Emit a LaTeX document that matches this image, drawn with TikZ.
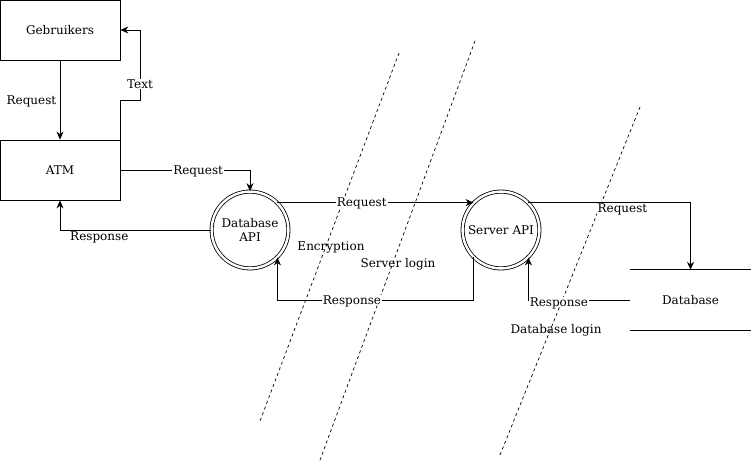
\documentclass[tikz,border=0pt]{standalone}
\usepackage{fontspec}
\setmainfont{DejaVu Serif}
\usetikzlibrary{arrows.meta}

\tikzset{
    entity/.style={draw, line width=0.8pt, minimum width=120pt, minimum height=60pt, inner sep=0pt},
    process/.style={circle, draw, double, line width=0.8pt, double distance=2.4pt, minimum size=76.8pt, inner sep=0pt, align=center},
    store/.style={minimum width=121pt, minimum height=60pt, inner sep=0pt},
    flow/.style={line width=0.8pt, -{Stealth[length=8pt, width=7pt]}},
    lbl/.style={fill=white, inner sep=1pt},
    boundary/.style={line width=0.7pt, dash pattern=on 3pt off 3pt}
}

\begin{document}
\begin{tikzpicture}[x=1pt, y=-1pt, font=\fontsize{12pt}{14pt}\selectfont, every node/.append style={text depth=0pt}]
    \useasboundingbox (0,0) rectangle (751,462);

    % Grenzen
    \draw[boundary] (399,53) -- (260,421);
    \draw[boundary] (475,41) -- (320,460);
    \draw[boundary] (640,107) -- (500,455);

    % Entiteiten
    \node[entity] (gebruikers) at (60,30) {Gebruikers};
    \node[entity] (atm) at (60,170) {ATM};

    % Processen
    \node[process] (dbapi) at (250,230) {Database\\API};
    \node[process] (srvapi) at (501,230) {Server API};

    % Database
    \node[store] (db) at (690.5,300) {Database};
    \draw[line width=0.8pt] (db.north west) -- (db.north east);
    \draw[line width=0.8pt] (db.south west) -- (db.south east);

    % Pijlen
    \draw[flow] (gebruikers) -- (atm) node[midway, left]{Request};
    \coordinate (tbend) at (140,100);
    \draw[flow] (atm.north east) |- (tbend) -- (tbend |- gebruikers.east) -- (gebruikers.east);
    \node[lbl] (textlbl) at (140,84) {Text};
    \draw[flow] (atm.east) -| (dbapi.north) node[pos=0.3, lbl]{Request};
    \draw[flow] (dbapi.west) -| (atm.south) node[pos=0.37, lbl, yshift=-6pt]{Response};
    \draw[flow] (dbapi.45) -- (srvapi.135) node[pos=0.43, lbl]{Request};
    \draw[flow] (srvapi.-135) -- (srvapi.-135 |- 0,300) -| (dbapi.-45) node[pos=0.31, lbl]{Response};
    \draw[flow] (srvapi.45) -| (db.north) node[pos=0.29, lbl, yshift=-6pt]{Request};
    \draw[flow] (db.west) -| (srvapi.-45) node[pos=0.35, lbl, yshift=-2pt]{Response};

    % Teksten
    \node (encryption) at (331,246) {Encryption};
    \node (srvlogin) at (398,263) {Server login};
    \node (dblogin) at (556,329) {Database login};
\end{tikzpicture}
\end{document}
